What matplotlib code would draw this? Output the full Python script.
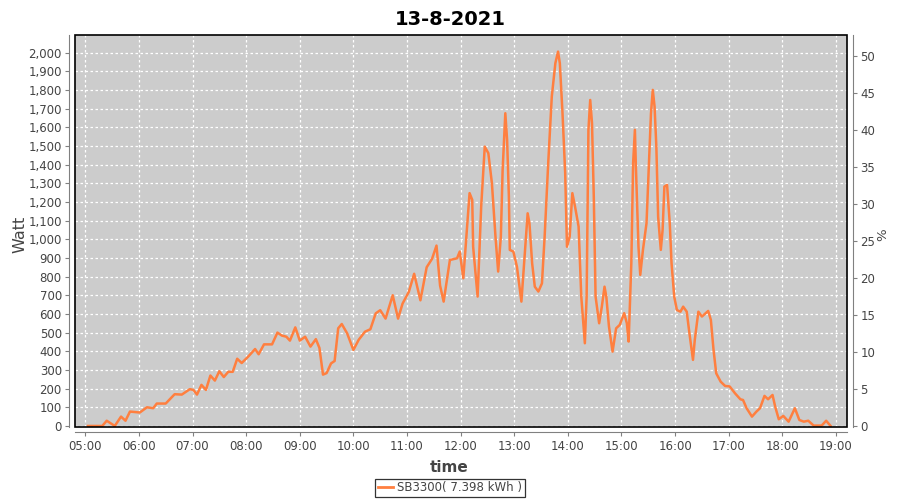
import matplotlib
matplotlib.use("Agg")
import matplotlib.pyplot as plt
import matplotlib.dates as mdates
import matplotlib.ticker as mticker
from matplotlib.patches import Rectangle
import pandas as pd

# readings from the inverter log, 13-8-2021
times = ["05:03", "05:19", "05:24", "05:33", "05:40", "05:45", "05:50", "06:01", "06:09", "06:16",
         "06:20", "06:30", "06:40", "06:48", "06:57", "07:01", "07:05", "07:10", "07:15", "07:20",
         "07:25", "07:30", "07:35", "07:40", "07:45", "07:50", "07:55", "08:02", "08:10", "08:14",
         "08:20", "08:29", "08:35", "08:40", "08:45", "08:49", "08:55", "09:00", "09:06", "09:12",
         "09:18", "09:22", "09:26", "09:30", "09:35", "09:39", "09:43", "09:47", "09:53", "10:00",
         "10:06", "10:13", "10:19", "10:25", "10:30", "10:36", "10:44", "10:50", "10:55", "11:02",
         "11:08", "11:15", "11:22", "11:28", "11:33", "11:37", "11:41", "11:48", "11:56", "11:59",
         "12:03", "12:07", "12:10", "12:13", "12:14", "12:19", "12:23", "12:27", "12:31", "12:35",
         "12:39", "12:42", "12:45", "12:47", "12:50", "12:52", "12:54", "12:55", "12:59", "13:03",
         "13:08", "13:11", "13:15", "13:17", "13:20", "13:23", "13:27", "13:31", "13:34", "13:38",
         "13:42", "13:46", "13:49", "13:51", "13:54", "13:57", "13:59", "14:02", "14:05", "14:08",
         "14:12", "14:15", "14:19", "14:21", "14:23", "14:25", "14:27", "14:29", "14:31", "14:35",
         "14:38", "14:41", "14:43", "14:46", "14:50", "14:54", "14:58", "15:03", "15:06", "15:08",
         "15:11", "15:13", "15:15", "15:16", "15:19", "15:21", "15:24", "15:28", "15:30", "15:33",
         "15:35", "15:37", "15:39", "15:41", "15:44", "15:46", "15:48", "15:51", "15:54", "15:56",
         "15:59", "16:02", "16:06", "16:09", "16:13", "16:16", "16:20", "16:22", "16:26", "16:30",
         "16:37", "16:40", "16:43", "16:46", "16:51", "16:56", "17:01", "17:07", "17:13", "17:16",
         "17:20", "17:26", "17:31", "17:35", "17:40", "17:44", "17:49", "17:52", "17:56", "18:01",
         "18:07", "18:14", "18:19", "18:24", "18:29", "18:35", "18:44", "18:49", "18:54"]
watts = [0, 0, 28, 0, 50, 28, 77, 72, 100, 95,
         120, 120, 170, 168, 197, 193, 168, 220, 193, 270,
         243, 293, 262, 290, 290, 360, 337, 370, 412, 384,
         437, 437, 500, 484, 478, 457, 528, 457, 478, 425,
         465, 418, 275, 283, 335, 348, 523, 546, 496, 407,
         462, 505, 518, 603, 620, 575, 700, 575, 655, 718,
         815, 673, 850, 895, 966, 752, 666, 889, 898, 934,
         791, 1050, 1247, 1211, 960, 693, 1175, 1496, 1461, 1300,
         1014, 827, 1014, 1371, 1675, 1532, 1228, 943, 934, 853,
         666, 872, 1139, 1086, 872, 746, 720, 764, 1014, 1407,
         1764, 1943, 2005, 1943, 1675, 1354, 960, 1014, 1247, 1175,
         1068, 693, 443, 693, 1586, 1746, 1622, 1228, 693, 550,
         639, 746, 693, 532, 398, 523, 541, 604, 550, 452,
         872, 1407, 1586, 1407, 960, 809, 943, 1086, 1318, 1675,
         1800, 1711, 1496, 1121, 943, 1050, 1282, 1291, 1086, 872,
         693, 621, 612, 639, 612, 497, 354, 461, 612, 586,
         616, 568, 407, 282, 237, 214, 212, 175, 143, 139,
         95, 50, 77, 95, 161, 143, 166, 103, 36, 54,
         23, 95, 32, 23, 28, 2, 2, 28, 0]

series_label = "SB3300( 7.398 kWh )"
title = "13-8-2021"

t = pd.to_datetime(["2021-08-13 " + s for s in times])

fig = plt.figure(figsize=(9, 5), dpi=100)
ax = fig.add_axes([75 / 900, 1 - 426.7 / 500, 772 / 900, 391.7 / 500])
ax.set_facecolor("#cccccc")

ax.plot(t, watts, color="#ff7f3f", lw=1.8, zorder=3)

ax.set_xlim(pd.Timestamp("2021-08-13 04:48:30"), pd.Timestamp("2021-08-13 19:12:20"))
ax.set_ylim(-4, 2094)
ax.xaxis.set_major_locator(mdates.HourLocator())
ax.xaxis.set_major_formatter(mdates.DateFormatter("%H:%M"))
ax.yaxis.set_major_locator(mticker.MultipleLocator(100))
ax.yaxis.set_major_formatter(mticker.FuncFormatter(lambda v, p: f"{int(v):,}"))
ax.grid(True, color="white", ls=(0, (2, 2)), lw=0.9)

ax2 = ax.twinx()
ax2.set_ylim(-0.1, 52.8)
ax2.yaxis.set_major_locator(mticker.MultipleLocator(5))

for a in (ax, ax2):
    for s in a.spines.values():
        s.set_visible(False)
    a.tick_params(colors="#808080", labelcolor="#444444", labelsize=8.5,
                  length=3, width=0.8, pad=2.5)
for side, a in (("left", ax), ("bottom", ax), ("right", ax2)):
    a.spines[side].set_visible(True)
    a.spines[side].set_position(("outward", 4))
    a.spines[side].set_color("#808080")

ax.add_patch(Rectangle((0, 0), 1, 1, transform=ax.transAxes, fill=False,
                       ec="black", lw=1.2, zorder=5, clip_on=False))

ax.set_ylabel("Watt", fontsize=11.5, color="#444444")
ax.yaxis.set_label_coords(-0.062, 0.49)
ax.set_xlabel("time", fontsize=11, fontweight="bold", color="#444444")
ax.xaxis.set_label_coords(0.485, -0.085)
ax2.set_ylabel("%", fontsize=9.5, color="#444444")
ax2.yaxis.set_label_coords(1.038, 0.49)
fig.suptitle(title, fontsize=14, fontweight="bold", y=0.98)

leg = fig.legend([plt.Line2D([], [], color="#ff7f3f", lw=2)], [series_label],
                 loc="center", bbox_to_anchor=(0.5, 0.024), fontsize=8.5,
                 frameon=True, fancybox=False, edgecolor="black",
                 handlelength=1.3, handletextpad=0.3, borderpad=0.25,
                 borderaxespad=0)
leg.get_frame().set_linewidth(0.9)
for txt in leg.get_texts():
    txt.set_color("#444444")

fig.savefig("out.png", dpi=100)
